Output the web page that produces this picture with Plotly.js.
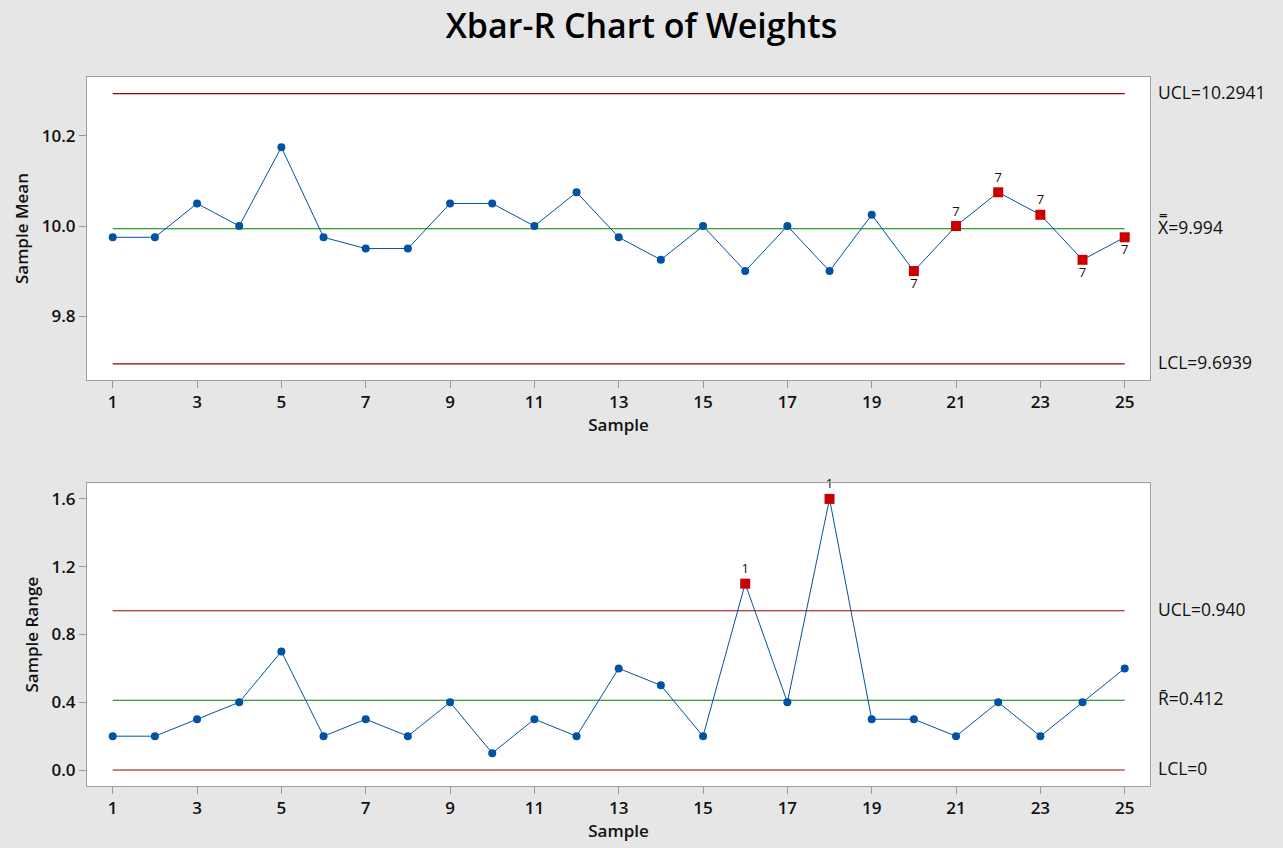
<!DOCTYPE html>
<html>
<head>
<meta charset="utf-8">
<script src="https://cdn.plot.ly/plotly-3.0.1.min.js"></script>
<style>html,body{margin:0;padding:0;background:#e6e6e6;}#chart{width:1283px;height:848px;}</style>
</head>
<body>
<div id="chart"></div>
<script>
const samples = [1,2,3,4,5,6,7,8,9,10,11,12,13,14,15,16,17,18,19,20,21,22,23,24,25];
const means = [9.975,9.975,10.05,10.0,10.175,9.975,9.95,9.95,10.05,10.05,10.0,10.075,9.975,9.925,10.0,9.9,10.0,9.9,10.025,9.9,10.0,10.075,10.025,9.925,9.975];
const ranges = [0.2,0.2,0.3,0.4,0.7,0.2,0.3,0.2,0.4,0.1,0.3,0.2,0.6,0.5,0.2,1.1,0.4,1.6,0.3,0.3,0.2,0.4,0.2,0.4,0.6];
const xbarUCL = 10.2941, xbarCL = 9.994, xbarLCL = 9.6939;
const rUCL = 0.940, rCL = 0.412, rLCL = 0;
const meanFlags = [20,21,22,23,24,25];
const meanFlagLabel = ["7","7","7","7","7","7"];
const meanFlagPos = ["bottom center","top center","top center","top center","bottom center","bottom center"];
const rangeFlags = [16,18];
const rangeFlagLabel = ["1","1"];
const xTicks = [1,3,5,7,9,11,13,15,17,19,21,23,25];

const blue = '#0052a3', red = '#cc0000', dred = '#990000', green = '#008000';
const F = '"Open Sans", "Noto Sans", sans-serif';
const first = samples[0], last = samples[samples.length-1];
function hline(y, color, xa, ya){ return {x:[first,last], y:[y,y], mode:'lines', line:{color:color,width:1.1}, xaxis:xa, yaxis:ya, hoverinfo:'skip', showlegend:false}; }
function pick(arr, idx){ return idx.map(s => arr[samples.indexOf(s)]); }

const traces = [
  hline(xbarUCL, dred, 'x','y'), hline(xbarCL, green, 'x','y'), hline(xbarLCL, dred, 'x','y'),
  {x:samples, y:means, mode:'lines+markers', line:{color:blue,width:1}, marker:{color:blue,size:8,symbol:'circle'}, xaxis:'x', yaxis:'y', showlegend:false},
  {x:meanFlags, y:pick(means, meanFlags), mode:'markers+text', text:meanFlagLabel, textposition:meanFlagPos, cliponaxis:false, textfont:{family:F,size:13,color:'#111'}, marker:{color:red,size:10,symbol:'square'}, xaxis:'x', yaxis:'y', showlegend:false},
  hline(rUCL, dred, 'x2','y2'), hline(rCL, green, 'x2','y2'), hline(rLCL, dred, 'x2','y2'),
  {x:samples, y:ranges, mode:'lines+markers', line:{color:blue,width:1}, marker:{color:blue,size:8,symbol:'circle'}, xaxis:'x2', yaxis:'y2', showlegend:false},
  {x:rangeFlags, y:pick(ranges, rangeFlags), mode:'markers+text', text:rangeFlagLabel, textposition:'top center', cliponaxis:false, textfont:{family:F,size:13,color:'#111'}, marker:{color:red,size:10,symbol:'square'}, xaxis:'x2', yaxis:'y2', showlegend:false}
];

const tickFont = {family:F, size:17, color:'#111', weight:600};
const titleFont = {family:F, size:17, color:'#111', weight:600};
function xax(anchor){ return {anchor:anchor, range:[0.39,25.6], tickvals:xTicks, ticktext:xTicks.map(String), ticks:'outside', ticklen:7, tickcolor:'#999', tickfont:tickFont, showgrid:false, zeroline:false, showline:true, linecolor:'#a0a0a0', mirror:true, title:{text:'Sample', font:titleFont, standoff:4}}; }
function yax(anchor, domain, range, tv, tt, t){ return {anchor:anchor, domain:domain, range:range, tickvals:tv, ticktext:tt, ticks:'outside', ticklen:7, tickcolor:'#999', tickfont:tickFont, showgrid:false, zeroline:false, showline:true, linecolor:'#a0a0a0', mirror:true, title:{text:t, font:titleFont, standoff:8}}; }

function ann(text, y, xref, yref){ return {text:text, x:1, xref:xref+' domain', y:y, yref:yref, xanchor:'left', xshift:6, yshift:2, yanchor:'middle', showarrow:false, font:{family:F,size:17.5,color:'#111'}}; }

const layout = {
  width:1283, height:848,
  paper_bgcolor:'#e6e6e6', plot_bgcolor:'#ffffff',
  margin:{l:86.5, r:133, t:77, b:62},
  title:{text:'Xbar-R Chart of Weights', x:0.5, xanchor:'center', y:0.969, yanchor:'middle', font:{family:F, size:34, color:'#000', weight:600}},
  xaxis: xax('y'),
  yaxis: yax('x', [0.5726,1], [9.658,10.331], [9.8,10.0,10.2], ['9.8','10.0','10.2'], 'Sample Mean'),
  xaxis2: xax('y2'),
  yaxis2: yax('x2', [0,0.4269], [-0.094,1.692], [0,0.4,0.8,1.2,1.6], ['0.0','0.4','0.8','1.2','1.6'], 'Sample Range'),
  annotations:[
    ann('UCL=' + xbarUCL, xbarUCL, 'x', 'y'),
    ann('X\u033F=' + xbarCL, xbarCL, 'x', 'y'),
    ann('LCL=' + xbarLCL, xbarLCL, 'x', 'y'),
    ann('UCL=' + rUCL.toFixed(3), rUCL, 'x2', 'y2'),
    ann('R\u0304=' + rCL.toFixed(3), rCL, 'x2', 'y2'),
    ann('LCL=' + rLCL, rLCL, 'x2', 'y2')
  ]
};
Plotly.newPlot('chart', traces, layout, {staticPlot:true});
</script>
</body>
</html>
